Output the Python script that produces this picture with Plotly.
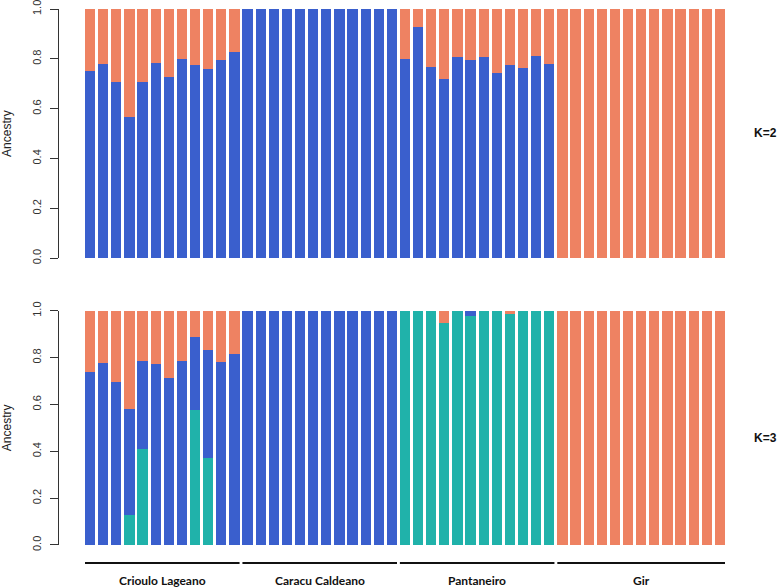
import plotly.graph_objects as go

# ---------------- data ----------------
groups = ["Crioulo Lageano", "Caracu Caldeano", "Pantaneiro", "Gir"]
group_sizes = [12, 12, 12, 13]
y_ticks = [0.0, 0.2, 0.4, 0.6, 0.8, 1.0]
y_tick_labels = ["0.0", "0.2", "0.4", "0.6", "0.8", "1.0"]
panel_labels = ["K=2", "K=3"]

# K=2 : cluster 1 (blue) and cluster 2 (orange)
k2_blue = [0.750, 0.780, 0.707, 0.566, 0.708, 0.784, 0.726, 0.798, 0.774, 0.758, 0.795, 0.829,
           1, 1, 1, 1, 1, 1, 1, 1, 1, 1, 1, 1,
           0.800, 0.929, 0.768, 0.718, 0.807, 0.795, 0.809, 0.742, 0.774, 0.764, 0.810, 0.780,
           0, 0, 0, 0, 0, 0, 0, 0, 0, 0, 0, 0, 0]
k2_orange = [0.250, 0.220, 0.293, 0.434, 0.292, 0.216, 0.274, 0.202, 0.226, 0.242, 0.205, 0.171,
             0, 0, 0, 0, 0, 0, 0, 0, 0, 0, 0, 0,
             0.200, 0.071, 0.232, 0.282, 0.193, 0.205, 0.191, 0.258, 0.226, 0.236, 0.190, 0.220,
             1, 1, 1, 1, 1, 1, 1, 1, 1, 1, 1, 1, 1]

# K=3 : teal, blue, orange
k3_teal = [0, 0, 0, 0.127, 0.410, 0, 0, 0, 0.578, 0.373, 0, 0,
           0, 0, 0, 0, 0, 0, 0, 0, 0, 0, 0, 0,
           1, 1, 1, 0.949, 1, 0.979, 1, 1, 0.987, 1, 1, 1,
           0, 0, 0, 0, 0, 0, 0, 0, 0, 0, 0, 0, 0]
k3_blue = [0.740, 0.777, 0.697, 0.453, 0.378, 0.774, 0.714, 0.787, 0.311, 0.459, 0.782, 0.815,
           1, 1, 1, 1, 1, 1, 1, 1, 1, 1, 1, 1,
           0, 0, 0, 0, 0, 0.021, 0, 0, 0, 0, 0, 0,
           0, 0, 0, 0, 0, 0, 0, 0, 0, 0, 0, 0, 0]
k3_orange = [0.260, 0.223, 0.303, 0.420, 0.212, 0.226, 0.286, 0.213, 0.111, 0.168, 0.218, 0.185,
             0, 0, 0, 0, 0, 0, 0, 0, 0, 0, 0, 0,
             0, 0, 0, 0.051, 0, 0, 0, 0, 0.013, 0, 0, 0,
             1, 1, 1, 1, 1, 1, 1, 1, 1, 1, 1, 1, 1]

# ---------------- styling ----------------
BLUE = "#3A5FCD"
ORANGE = "#EE8262"
TEAL = "#20B2AA"
BAR_W = 0.78

n = sum(group_sizes)
xs = list(range(n))

fig = go.Figure()

def add_bar(vals, color, xa, ya):
    fig.add_trace(go.Bar(x=xs, y=vals, width=BAR_W, marker=dict(color=color, line=dict(width=0)),
                         xaxis=xa, yaxis=ya, showlegend=False, hoverinfo="skip"))

# top panel (K=2)
add_bar(k2_blue, BLUE, "x", "y")
add_bar(k2_orange, ORANGE, "x", "y")
# bottom panel (K=3)
add_bar(k3_teal, TEAL, "x2", "y2")
add_bar(k3_blue, BLUE, "x2", "y2")
add_bar(k3_orange, ORANGE, "x2", "y2")

x_range = [-0.39 - 26 / 13.12, n - 1 + 0.39]

yaxis_style = dict(range=[0, 1], tickvals=y_ticks, ticktext=y_tick_labels, showline=True,
                   linecolor="#333333", linewidth=1.3, ticks="outside", ticklen=8,
                   tickcolor="#333333", tickwidth=1.3, tickangle=-90, showgrid=False,
                   zeroline=False, fixedrange=True, automargin=False,
                   ticklabeloverflow="allow", ticklabelstandoff=4,
                   tickfont=dict(family="Liberation Sans", size=11, color="#333333"),
                   title=dict(text="Ancestry", standoff=18,
                              font=dict(family="Liberation Sans", size=12, color="#222222")))
xaxis_style = dict(range=x_range, visible=False, showgrid=False, zeroline=False,
                   fixedrange=True, automargin=False)

fig.update_layout(
    width=778, height=587,
    margin=dict(l=59, r=53, t=9, b=42),
    paper_bgcolor="white", plot_bgcolor="white",
    barmode="stack", bargap=0,
    xaxis=dict(domain=[0, 1], anchor="y", **xaxis_style),
    xaxis2=dict(domain=[0, 1], anchor="y2", **xaxis_style),
    yaxis=dict(domain=[0.535, 1.0], anchor="x", **yaxis_style),
    yaxis2=dict(domain=[0.0, 0.437], anchor="x2", **yaxis_style),
)

# group lines and labels under the bottom panel
start = 0
for g, size in zip(groups, group_sizes):
    x0 = start - BAR_W / 2
    x1 = start + size - 1 + BAR_W / 2
    fig.add_shape(type="line", xref="x2", yref="paper", x0=x0, x1=x1, y0=-0.0336, y1=-0.0336,
                  line=dict(color="#111111", width=2))
    fig.add_annotation(xref="x2", yref="paper", x=(x0 + x1) / 2, y=-0.066, text="<b>%s</b>" % g,
                       showarrow=False, yanchor="middle",
                       font=dict(family="Lato", size=12, color="#111111"))
    start += size

# K labels on the right
for lab, yc in zip(panel_labels, [0.768, 0.200]):
    fig.add_annotation(xref="paper", yref="paper", x=1.0, xshift=40, y=yc, text="<b>%s</b>" % lab,
                       showarrow=False, xanchor="center", yanchor="middle",
                       font=dict(family="Liberation Sans", size=12, color="#111111"))

# remove the browser's default 8px body margin so the figure sits at the page origin
fig.write_html("out.html", config={"displayModeBar": False},
               post_script="document.body.style.margin='0';")
